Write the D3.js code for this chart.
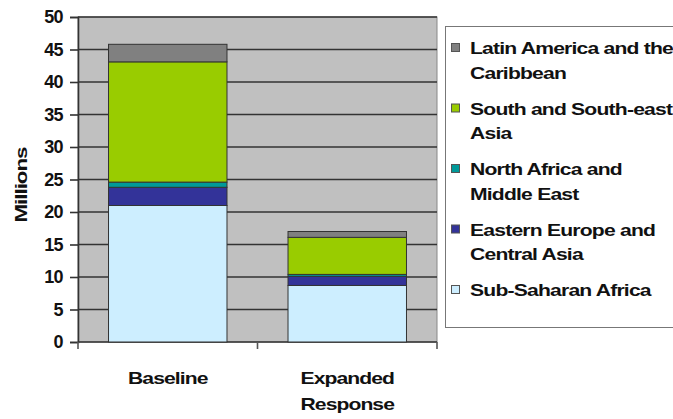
<!DOCTYPE html>
<html>
<head>
<meta charset="utf-8">
<script src="https://cdn.jsdelivr.net/npm/d3@7"></script>
<style>
  body { margin: 0; background: #fff; }
  svg text { font-family: "Liberation Sans", Arial, sans-serif; font-weight: bold; fill: #111; }
</style>
</head>
<body>
<div id="chart"></div>
<script>
// data
var categories = ["Baseline", "Expanded Response"]
var regions = ["Sub-Saharan Africa", "Eastern Europe and Central Asia",
  "North Africa and Middle East", "South and South-east Asia",
  "Latin America and the Caribbean"]
var subSaharan = [21.0, 8.7]
var easternEurope = [2.8, 1.4]
var northAfrica = [0.8, 0.3]
var southAsia = [18.5, 5.7]
var latinAmerica = [2.7, 0.9]
var yTicks = [0, 5, 10, 15, 20, 25, 30, 35, 40, 45, 50]
var colors = ["#cdeeff", "#333399", "#009999", "#99cc00", "#808080"]

var seriesValues = [subSaharan, easternEurope, northAfrica, southAsia, latinAmerica]

// the original text looks stretched sideways
var stretch = 1.32

var svg = d3.select("#chart").append("svg")
  .attr("width", 673).attr("height", 419)

var plot = {left: 78, right: 437, top: 17, bottom: 342}

// scales
var x = d3.scaleBand()
  .domain(categories)
  .range([plot.left, plot.right])
  .paddingInner(0.34).paddingOuter(0.17)

var y = d3.scaleLinear()
  .domain([0, 50])
  .range([plot.bottom, plot.top])

// background
svg.append("rect")
  .attr("x", plot.left).attr("y", plot.top)
  .attr("width", plot.right - plot.left).attr("height", plot.bottom - plot.top)
  .attr("fill", "#c0c0c0")
  .attr("stroke", "#888").attr("stroke-width", 1)

// gridlines
svg.append("g").selectAll("line")
  .data(yTicks.slice(1))
  .enter().append("line")
  .attr("x1", plot.left).attr("x2", plot.right)
  .attr("y1", d => y(d)).attr("y2", d => y(d))
  .attr("stroke", "#333").attr("stroke-width", 1.6)

// y axis
var yAxis = svg.append("g")
  .attr("transform", "translate(" + plot.left + ",0)")
  .call(d3.axisLeft(y).tickValues(yTicks).tickSize(8).tickPadding(7))
yAxis.attr("font-family", null).attr("font-size", null)
yAxis.select(".domain").attr("stroke", "#333").attr("stroke-width", 1.6)
yAxis.selectAll(".tick line").attr("stroke", "#333").attr("stroke-width", 1.6)
yAxis.selectAll("text")
  .attr("font-size", 18).attr("letter-spacing", -0.6)
  .attr("fill", "#111")

// x axis
var xAxis = svg.append("g")
  .attr("transform", "translate(0," + plot.bottom + ")")
xAxis.append("line")
  .attr("x1", plot.left).attr("x2", plot.right)
  .attr("stroke", "#333").attr("stroke-width", 1.6)
xAxis.selectAll(".sep")
  .data([plot.left, (plot.left + plot.right) / 2, plot.right])
  .enter().append("line")
  .attr("x1", d => d).attr("x2", d => d)
  .attr("y1", 0).attr("y2", 7)
  .attr("stroke", "#555").attr("stroke-width", 1.6)

// category labels
var catLabels = svg.append("g").selectAll("text")
  .data(categories)
  .enter().append("text")
  .attr("text-anchor", "middle")
  .attr("font-size", 16).attr("letter-spacing", -0.7)
  .attr("transform", d => "translate(" + (x(d) + x.bandwidth() / 2) + ",384) scale(" + stretch + ",1)")
catLabels.each(function(d) {
  var words = d.split(" ")
  var t = d3.select(this)
  words.forEach(function(w, i) {
    t.append("tspan").attr("x", 0).attr("dy", i == 0 ? 0 : 26).text(w)
  })
})

// y title
svg.append("text")
  .attr("transform", "translate(27,185) rotate(-90) scale(" + stretch + ",1)")
  .attr("text-anchor", "middle")
  .attr("font-size", 17).attr("letter-spacing", -0.8)
  .text("Millions")

// stacked bars
var rows = categories.map(function(c, i) {
  var r = {category: c}
  regions.forEach(function(g, j) { r[g] = seriesValues[j][i] })
  return r
})
var stacked = d3.stack().keys(regions)(rows)

svg.append("g").selectAll("g")
  .data(stacked)
  .enter().append("g")
  .attr("fill", (d, i) => colors[i])
  .selectAll("rect")
  .data(d => d)
  .enter().append("rect")
  .attr("x", d => x(d.data.category))
  .attr("width", x.bandwidth())
  .attr("y", d => y(d[1]))
  .attr("height", d => y(d[0]) - y(d[1]))
  .attr("stroke", "#333").attr("stroke-width", 1)

// legend
svg.append("rect")
  .attr("x", 445.5).attr("y", 26.5)
  .attr("width", 240).attr("height", 301)
  .attr("fill", "#fff").attr("stroke", "#777").attr("stroke-width", 1)

var legendLines = [
  ["Latin America and the", "Caribbean"],
  ["South and South-east", "Asia"],
  ["North Africa and", "Middle East"],
  ["Eastern Europe and", "Central Asia"],
  ["Sub-Saharan Africa"]
]
var legendColors = colors.slice().reverse()

var items = svg.append("g").selectAll("g")
  .data(legendLines)
  .enter().append("g")
  .attr("transform", (d, i) => "translate(451," + (48 + i * 60.5) + ")")

items.append("rect")
  .attr("x", 0.5).attr("y", -4.5)
  .attr("width", 8).attr("height", 8)
  .attr("fill", (d, i) => legendColors[i])
  .attr("stroke", "#555").attr("stroke-width", 1)

items.each(function(d) {
  var t = d3.select(this).append("text")
    .attr("transform", "translate(19,6) scale(" + stretch + ",1)")
    .attr("font-size", 16).attr("letter-spacing", -0.6)
  d.forEach(function(line, i) {
    t.append("tspan").attr("x", 0).attr("dy", i == 0 ? 0 : 25).text(line)
  })
})
</script>
</body>
</html>
